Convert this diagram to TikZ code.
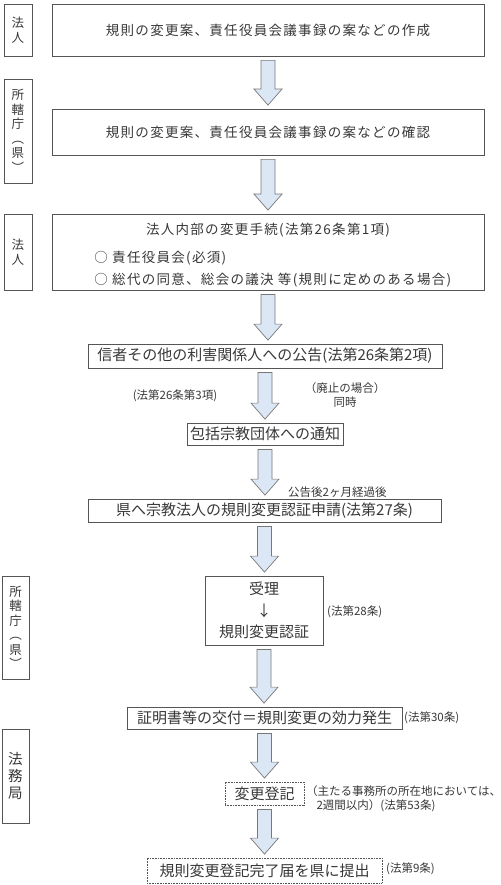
\documentclass[tikz,border=0pt]{standalone}
\usepackage{fontspec}
\setmainfont{Noto Sans CJK JP}
\newfontfamily\spacedfont[LetterSpace=9.6]{Noto Sans CJK JP}
\usetikzlibrary{calc}

\definecolor{arrowfill}{RGB}{219,231,245}
\definecolor{arrowline}{RGB}{120,120,120}
\definecolor{boxline}{RGB}{85,85,85}

\newcommand{\flowarrow}[2]{%
  \coordinate (#1-tail) at ($(#1.south)+(0,4)$);
  \coordinate (#1-tip) at ($(#1.south |- #2.north)+(0,-3.5)$);
  \filldraw[arrowbody] ($(#1-tail)+(-7,0)$) -- ($(#1-tail)+(7,0)$) -- ($(#1-tip)+(7,-16)$)
    -- ($(#1-tip)+(14,-16)$) -- (#1-tip) -- ($(#1-tip)+(-14,-16)$) -- ($(#1-tip)+(-7,-16)$) -- cycle;
}

\tikzset{
  stage/.style={draw=boxline, line width=0.8pt, inner sep=0pt, text=black!78, font=\fontsize{15}{18}\selectfont},
  widestage/.style={stage, font=\spacedfont\fontsize{13.5}{16}\selectfont},
  dotstage/.style={stage, dash pattern=on 0.8pt off 0.8pt},
  actor/.style={draw=boxline, line width=0.8pt, inner sep=0pt, align=center, text=black!78, font=\fontsize{12.5}{14.5}\selectfont},
  note/.style={inner sep=0pt, text=black!78, font=\fontsize{11.5}{14}\selectfont},
  arrowbody/.style={fill=arrowfill, draw=arrowline, line width=0.7pt, line join=miter},
}

\begin{document}
\begin{tikzpicture}[x=1pt, y=-1pt]
\useasboundingbox[fill=white] (0,0) rectangle (500,885);

\node[actor, minimum width=28pt, minimum height=52pt]  (who1) at (18,30)    {法\\人};
\node[actor, minimum width=28pt, minimum height=104pt] (who2) at (18,131)   {所\\轄\\庁\\︵\\県\\︶};
\node[actor, minimum width=28pt, minimum height=76pt]  (who3) at (18,252)   {法\\人};
\node[actor, minimum width=27pt, minimum height=103pt] (who4) at (15.5,627.5) {所\\轄\\庁\\︵\\県\\︶};
\node[actor, minimum width=27pt, minimum height=94pt, font=\fontsize{14.5}{17}\selectfont] (who5) at (15.5,776) {法\\務\\局};

\node[widestage, minimum width=432pt, minimum height=52pt] (draft) at (268,30) {規則の変更案、責任役員会議事録の案などの作成};
\node[widestage, minimum width=432pt, minimum height=46pt] (check) at (268,132) {規則の変更案、責任役員会議事録の案などの確認};
\node[widestage, minimum width=432pt, minimum height=76pt] (inner) at (268,252) {};
\node[widestage, inner sep=0pt, draw=none] (innertitle) at (268,230) {法人内部の変更手続(法第26条第1項)};
\node[widestage, inner sep=0pt, draw=none, anchor=west] (innerone) at (94,258) {○ 責任役員会(必須)};
\node[widestage, inner sep=0pt, draw=none, anchor=west] (innertwo) at (94,280) {○ 総代の同意、総会の議決 等(規則に定めのある場合)};

\node[stage, minimum width=354pt, minimum height=24pt] (notice) at (265,356) {信者その他の利害関係人への公告(法第26条第2項)};
\node[stage, minimum width=156pt, minimum height=22pt] (inform) at (265,434) {包括宗教団体への通知};
\node[stage, minimum width=353pt, minimum height=23pt] (apply)  at (264.5,510.5) {県へ宗教法人の規則変更認証申請(法第27条)};
\node[stage, minimum width=118pt, minimum height=69pt, align=center, font=\fontsize{15}{21.5}\selectfont] (approve) at (264,610.5) {受理\\↓\\規則変更認証};
\node[stage, minimum width=275pt, minimum height=22pt] (issue)  at (264.5,718) {証明書等の交付＝規則変更の効力発生};
\node[dotstage, minimum width=79pt, minimum height=23pt] (register) at (264.5,793.5) {変更登記};
\node[dotstage, minimum width=235pt, minimum height=25pt] (report) at (264.5,870.5) {規則変更登記完了届を県に提出};

\node[note] (lawthree) at (175,396) {(法第26条第3項)};
\node[note, align=center] (abolish) at (345,395) {（廃止の場合）\\同時};
\node[note, anchor=west] (twomonth) at (288,492) {公告後2ヶ月経過後};
\node[note, anchor=west] (law28) at (327,612) {(法第28条)};
\node[note, anchor=west] (law30) at (404,718) {(法第30条)};
\node[note, anchor=west, align=left] (law53) at (306,799) {（主たる事務所の所在地においては、\\\hspace*{0.9em}2週間以内）(法第53条)};
\node[note, anchor=west] (law9) at (386,869) {(法第9条)};

\flowarrow{draft}{check}
\flowarrow{check}{inner}
\flowarrow{inner}{notice}
\flowarrow{notice}{inform}
\flowarrow{inform}{apply}
\flowarrow{apply}{approve}
\flowarrow{approve}{issue}
\flowarrow{issue}{register}
\flowarrow{register}{report}
\end{tikzpicture}
\end{document}
